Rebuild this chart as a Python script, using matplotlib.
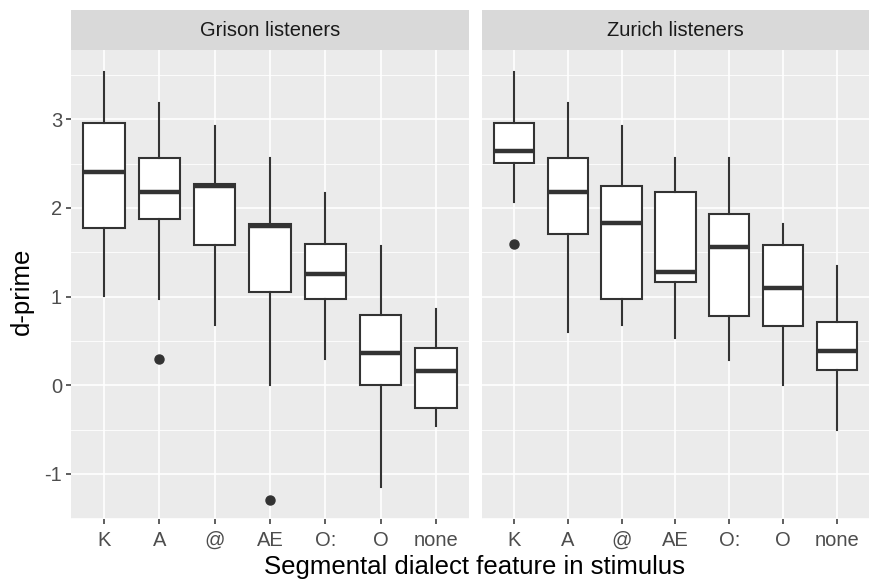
import matplotlib
matplotlib.use("Agg")
import matplotlib.pyplot as plt
import numpy as np
from matplotlib.ticker import MultipleLocator

plt.rcParams["font.family"] = ["Liberation Sans", "DejaVu Sans"]
plt.rcParams["axes.unicode_minus"] = False

categories = ["K", "A", "@", "AE", "O:", "O", "none"]
panels = ["Grison listeners", "Zurich listeners"]

# whisker low, Q1, median, Q3, whisker high, per category
grison_low = [1.01, 0.97, 0.68, 0.00, 0.30, -1.15, -0.46]
grison_q1 = [1.77, 1.87, 1.58, 1.05, 0.97, 0.00, -0.26]
grison_med = [2.40, 2.18, 2.25, 1.80, 1.25, 0.36, 0.16]
grison_q3 = [2.96, 2.56, 2.27, 1.82, 1.59, 0.79, 0.42]
grison_high = [3.53, 3.18, 2.92, 2.56, 2.17, 1.57, 0.86]
grison_out = [[], [0.30], [], [-1.29], [], [], []]

zurich_low = [2.07, 0.60, 0.68, 0.53, 0.28, 0.00, -0.50]
zurich_q1 = [2.51, 1.71, 0.97, 1.16, 0.78, 0.67, 0.17]
zurich_med = [2.64, 2.18, 1.83, 1.28, 1.56, 1.10, 0.39]
zurich_q3 = [2.96, 2.56, 2.25, 2.18, 1.93, 1.58, 0.71]
zurich_high = [3.53, 3.18, 2.92, 2.56, 2.56, 1.82, 1.34]
zurich_out = [[1.59], [], [], [], [], [], []]

data = [
    (grison_low, grison_q1, grison_med, grison_q3, grison_high, grison_out),
    (zurich_low, zurich_q1, zurich_med, zurich_q3, zurich_high, zurich_out),
]

fig = plt.figure(figsize=(8.71, 5.82), dpi=100)
bottom, top = 0.108, 0.914
axes = [fig.add_axes([0.0815, bottom, 0.457, top - bottom]),
        fig.add_axes([0.553, bottom, 0.445, top - bottom])]

line_col = "#333333"
for i, ax in enumerate(axes):
    low, q1, med, q3, high, outs = data[i]
    stats = []
    for j in range(len(categories)):
        stats.append(dict(whislo=low[j], q1=q1[j], med=med[j], q3=q3[j],
                          whishi=high[j], fliers=outs[j], label=categories[j]))
    ax.set_facecolor("#EBEBEB")
    ax.bxp(stats, positions=np.arange(len(categories)), widths=0.75,
           patch_artist=True, showcaps=False,
           boxprops=dict(facecolor="white", edgecolor=line_col, linewidth=1.5),
           whiskerprops=dict(color=line_col, linewidth=1.5),
           medianprops=dict(color=line_col, linewidth=3.2, solid_capstyle="butt"),
           flierprops=dict(marker="o", markerfacecolor=line_col,
                           markeredgecolor=line_col, markersize=6.5),
           zorder=3)
    ax.set_xlim(-0.6, len(categories) - 0.4)
    ax.set_ylim(-1.51, 3.78)
    ax.yaxis.set_major_locator(MultipleLocator(1))
    ax.yaxis.set_minor_locator(MultipleLocator(0.5))
    ax.grid(which="major", color="white", linewidth=1.2, zorder=0)
    ax.grid(which="minor", axis="y", color="white", linewidth=0.6, zorder=0)
    ax.set_axisbelow(True)
    for s in ax.spines.values():
        s.set_visible(False)
    ax.tick_params(axis="both", which="major", color="#333333", length=3.5,
                   width=1.1, labelsize=14.5, labelcolor="#4D4D4D", pad=3)
    ax.tick_params(axis="x", which="major", pad=5)
    ax.tick_params(axis="both", which="minor", length=0)
    ax.set_xticks(np.arange(len(categories)))
    ax.set_xticklabels(categories)
    if i == 1:
        ax.tick_params(axis="y", which="major", length=0, labelleft=False)
    # facet strip
    strip = plt.Rectangle((0, 1.0), 1, 0.085, transform=ax.transAxes,
                          facecolor="#D9D9D9", edgecolor="none", clip_on=False)
    ax.add_patch(strip)
    ax.text(0.5, 1.0425, panels[i], transform=ax.transAxes, ha="center",
            va="center", fontsize=14.5, color="#1A1A1A")

fig.text(0.025, 0.5, "d-prime", rotation=90, ha="center", va="center",
         fontsize=18.5)
fig.text(0.545, 0.026, "Segmental dialect feature in stimulus", ha="center",
         va="center", fontsize=18.5)

fig.savefig("out.png", dpi=100)
